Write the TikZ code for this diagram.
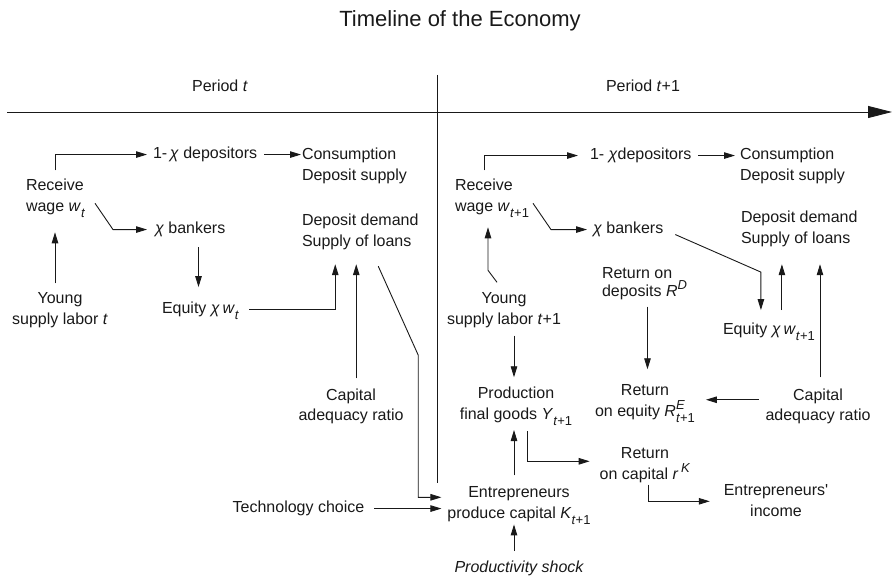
\documentclass[tikz,border=0pt]{standalone}
\usepackage{fontspec}
\setmainfont{Liberation Sans}
\usetikzlibrary{arrows.meta,calc}
% small script size for indices
\newcommand{\idxfont}{\fontsize{13}{13}\selectfont}
\newcommand{\lowr}[1]{\raisebox{-6pt}{\idxfont #1}}
\newcommand{\highr}[1]{\raisebox{7pt}{\idxfont #1}}
\newcommand{\hilo}[2]{\rlap{\highr{#1}}\lowr{#2}}
\newcommand{\chis}{\textit{χ}}

\begin{document}
\begin{tikzpicture}[x=1pt,y=-1pt,
  lbl/.style={inner sep=0pt, outer sep=0pt, font=\fontsize{16}{21}\selectfont, text=black!90},
  twoc/.style={lbl, align=center, anchor=north},
  twol/.style={lbl, align=left, anchor=north west},
  one/.style={lbl, anchor=base},
  onel/.style={lbl, anchor=base west},
  ln/.style={draw=black!90, line width=0.9pt},
  arr/.style={ln, -{Triangle[length=11pt,width=6.5pt]}}]
\useasboundingbox (0,0) rectangle (892,577);

% title, time axis and period divider
\node[one, font=\fontsize{22}{26}\selectfont] (title) at (460,27) {Timeline of the Economy};
\node[one] (pt)  at (220,92) {Period \textit{t}};
\node[one] (pt1) at (643,92) {Period \textit{t}+1};
\coordinate (ax0) at (7,112);
\coordinate (ax1) at (892,112);
\coordinate (dv0) at (437,75);
\coordinate (dv1) at (437,483);
\draw[ln, -{Triangle[length=24pt,width=12pt]}] (ax0) -- (ax1);
\draw[ln] (dv0) -- (dv1);

% period t
\node[twol] (rw) at (26,179.3) {Receive\\wage \textit{w}\lowr{\textit{t}}};
\node[onel] (dep) at (153,158.7) {1-\,\chis{} depositors};
\node[twol] (cons) at (302,148.3) {Consumption\\Deposit supply};
\node[onel] (bank) at (155,233.7) {\chis{} bankers};
\node[twol] (dd) at (302,214.3) {Deposit demand\\Supply of loans};
\node[twoc] (young) at (60,292.3) {Young\\supply labor \textit{t}};
\node[onel] (eq) at (162,313.7) {Equity \chis\,\textit{w}\lowr{\textit{t}}};
\node[twoc, font=\fontsize{16}{20}\selectfont] (car) at (351,389.3) {Capital\\adequacy ratio};
\node[one] (tech) at (298.5,512.7) {Technology choice};

% period t+1
\node[twol] (rw2) at (455,179.3) {Receive\\wage \textit{w}\lowr{\textit{t}+1}};
\node[onel] (dep2) at (590,159.7) {1- \chis{}depositors};
\node[twol] (cons2) at (740,148.3) {Consumption\\Deposit supply};
\node[onel] (bank2) at (593,233.7) {\chis{} bankers};
\node[twol] (dd2) at (741,211.3) {Deposit demand\\Supply of loans};
\node[twoc] (young2) at (504,292.3) {Young\\supply labor \textit{t}+1};
\node[twol, font=\fontsize{16}{18}\selectfont] (rd) at (602,267.3) {Return on\\deposits \textit{R}\highr{\textit{D}}};
\node[onel] (eq2) at (723,334.7) {Equity \chis\,\textit{w}\lowr{\textit{t}+1}};
\node[twoc] (prod) at (516,387.3) {Production\\final goods \textit{Y}\lowr{\textit{t}+1}};
\node[twoc] (re) at (645,384.3) {Return\\on equity \textit{R}\hilo{\textit{E}}{\textit{t}+1}};
\node[twoc, font=\fontsize{16}{20}\selectfont] (car2) at (818,389.3) {Capital\\adequacy ratio};
\node[twoc] (rk) at (645,447.3) {Return\\on capital \textit{r}\,\highr{\textit{K}}};
\node[twoc] (ent) at (519,486.3) {Entrepreneurs\\produce capital \textit{K}\lowr{\textit{t}+1}};
\node[twoc] (einc) at (776,484.3) {Entrepreneurs\textquotesingle\\income};
\node[one, font=\fontsize{16}{21}\selectfont\itshape] (shock) at (519,572.7) {Productivity shock};

% flows in period t
\draw[arr] ($(rw.north west)+(29,-9)$) |- ($(dep.west)+(-6,0)$);
\draw[arr] ($(dep.east)+(7,0)$) -- ($(dep.east -| cons.west)+(-1,0)$);
\draw[arr] ($(rw.north west)+(69,24)$) -- ($(bank.west)+(-42,0)$) -- ($(bank.west)+(-8,0)$);
\draw[arr] ($(eq.north |- bank.south)+(-2,10)$) -- ($(eq.north)+(-2,-15)$);
\draw[arr] ($(young.north)+(-5,-9)$) -- ($(rw.north west)+(29,53)$);
\draw[arr] ($(eq.east)+(10,-2)$) -| ($(dd.south)+(-25,14)$);
\draw[arr] ($(car.north -| dd.south)+(-4,-11)$) -- ($(dd.south)+(-4,14)$);
\draw[arr] ($(dd.south)+(18,16)$) -- ++(40,89) |- ($(ent.north west)+(-6,11)$);
\draw[arr] ($(tech.east)+(10,0)$) -- ($(tech.east -| ent.west)+(-6,0)$);

% flows in period t+1
\draw[arr] ($(shock.north)+(-5,-10)$) -- ($(shock.north |- ent.south)+(-5,0)$);
\draw[arr] ($(ent.north)+(-5,-11)$) -- ($(ent.north |- prod.south)+(-5,4)$);
\draw[arr] ($(prod.north |- young2.south)+(-2,8)$) -- ($(prod.north)+(-2,-10)$);
\draw[arr] ($(prod.south)+(11,5)$) |- ($(rk.north west)+(-10,14)$);
\draw[arr] ($(rk.south)+(3,2)$) |- ($(einc.north west)+(-14,17)$);
\draw[arr] ($(young2.north)+(-7,-10)$) -- ($(rw2.north west)+(33,91)$) -- ($(rw2.north west)+(33,48)$);
\draw[arr] ($(rw2.north west)+(29,-9)$) |- ($(dep2.west)+(-12,0)$);
\draw[arr] ($(dep2.east)+(7,0)$) -- ($(dep2.east -| cons2.west)+(-5,0)$);
\draw[arr] ($(rw2.north west)+(78,24)$) -- ($(bank2.west)+(-42,0)$) -- ($(bank2.west)+(-6,0)$);
\draw[arr] ($(bank2.east)+(12,5)$) -- ($(eq2.north)+(-8,-51)$) -- ($(eq2.north)+(-8,-13)$);
\draw[arr] ($(eq2.north)+(13,-13)$) -- ($(eq2.north |- dd2.south)+(13,17)$);
\draw[arr] ($(car2.north)+(2,-12)$) -- ($(car2.north |- dd2.south)+(2,17)$);
\draw[arr] ($(rd.south)+(3,7)$) -- ($(rd.south |- re.north)+(3,-15)$);
\draw[arr] ($(car2.west)+(-7,-7)$) -- ($(car2.west -| re.east)+(11,-7)$);
\end{tikzpicture}
\end{document}
